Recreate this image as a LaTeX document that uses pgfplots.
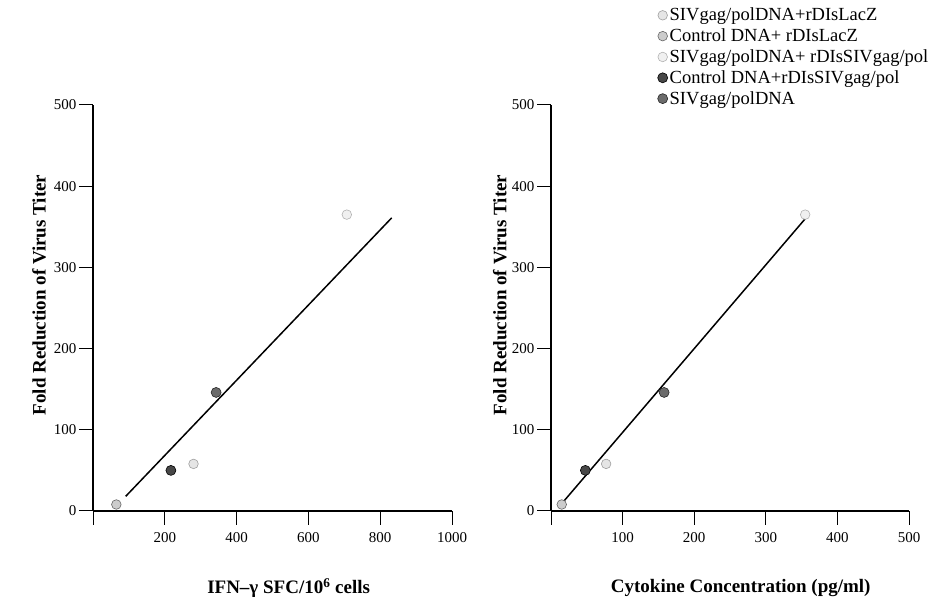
\documentclass[border=0pt]{standalone}
\usepackage{fontspec}
\setmainfont{Liberation Serif}
\usepackage{pgfplots}
\pgfplotsset{compat=1.18}

\pgfplotsset{
  panel/.style={
    scale only axis,
    height=406pt,
    ymin=0, ymax=500,
    ytick={0,100,...,500},
    axis x line=bottom, axis y line=left,
    axis line style={-, line width=1.1pt},
    tick align=outside,
    major tick length=14pt,
    tick style={line width=1pt, black},
    tick label style={font=\fontsize{15}{16}\selectfont},
    xticklabel style={yshift=-4pt},
    yticklabel style={xshift=1pt},
    /pgf/number format/assume math mode=true,
    label style={font=\bfseries\fontsize{19}{20}\selectfont},
    clip=false,
  },
  fitline/.style={black, line width=1.5pt, forget plot},
  mlight/.style={only marks, mark=*, mark size=4.8pt, mark options={fill=gray!20, draw=gray!75, line width=0.6pt}},
  mmed/.style={only marks, mark=*, mark size=4.8pt, mark options={fill=gray!40, draw=gray!80!black, line width=0.6pt}},
  mpale/.style={only marks, mark=*, mark size=4.8pt, mark options={fill=gray!12, draw=gray!60, line width=0.6pt}},
  mdark/.style={only marks, mark=*, mark size=5pt, mark options={fill=black!72, draw=black, line width=0.6pt}},
  mdkgray/.style={only marks, mark=*, mark size=5pt, mark options={fill=black!58, draw=black!85, line width=0.6pt}},
}

\begin{document}
\begin{tikzpicture}[x=1pt,y=1pt]
\useasboundingbox (0,0) rectangle (946,604);

% left panel: IFN-gamma SFC
\begin{axis}[panel,
    at={(93pt,93pt)}, anchor=origin,
    width=359pt,
    xmin=0, xmax=1000,
    xtick={0,200,...,1000},
    xticklabels={,200,400,600,800,1000},
    xlabel={IFN–γ SFC/10\textsuperscript{6} cells},
    ylabel={Fold Reduction of Virus Titer},
    xlabel style={at={(axis description cs:0.545,0)}, anchor=center, yshift=-77pt},
    ylabel style={at={(axis description cs:-0.15,0.532)}, anchor=center},
]
\addplot[fitline] coordinates {(91,18) (832,361)};
\addplot[mlight] coordinates {(280,58)};
\addplot[mmed] coordinates {(65,8)};
\addplot[mpale] coordinates {(707,365)};
\addplot[mdark] coordinates {(217,50)};
\addplot[mdkgray] coordinates {(343,146)};
\end{axis}

% right panel: cytokine concentration
\begin{axis}[panel,
    at={(551pt,93pt)}, anchor=origin,
    width=358pt,
    xmin=0, xmax=500,
    xtick={0,100,...,500},
    xticklabels={,100,200,300,400,500},
    xlabel={Cytokine Concentration (pg/ml)},
    ylabel={Fold Reduction of Virus Titer},
    xlabel style={at={(axis description cs:0.53,0)}, anchor=center, yshift=-77pt},
    ylabel style={at={(axis description cs:-0.143,0.532)}, anchor=center},
    legend style={at={(axis description cs:0.2975,1.244)}, anchor=north west,
      draw=none, fill=none, font=\fontsize{18.5}{20}\selectfont, row sep=2.5pt,
      inner sep=0pt},
    legend cell align={left},
]
\addplot[fitline] coordinates {(12,6) (360,365)};
\addplot[mlight] coordinates {(77,58)};
\addlegendentry{SIVgag/polDNA+rDIsLacZ}
\addplot[mmed] coordinates {(15,8)};
\addlegendentry{Control DNA+ rDIsLacZ}
\addplot[mpale] coordinates {(355,365)};
\addlegendentry{SIVgag/polDNA+ rDIsSIVgag/pol}
\addplot[mdark] coordinates {(48,50)};
\addlegendentry{Control DNA+rDIsSIVgag/pol}
\addplot[mdkgray] coordinates {(158,146)};
\addlegendentry{SIVgag/polDNA}
\end{axis}
\end{tikzpicture}
\end{document}
